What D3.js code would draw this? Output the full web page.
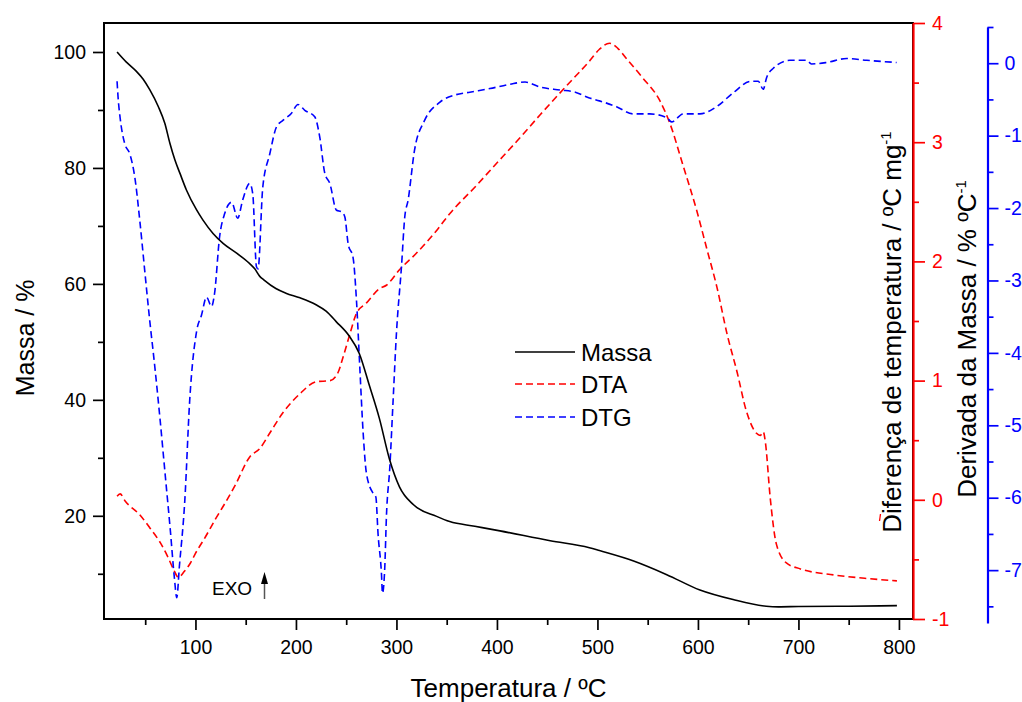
<!DOCTYPE html>
<html>
<head>
<meta charset="utf-8">
<script src="https://cdn.jsdelivr.net/npm/d3@7"></script>
<style>
  body { margin: 0; background: #fff; }
  svg { display: block; font-family: "Liberation Sans", Arial, Helvetica, sans-serif; }
</style>
</head>
<body>
<svg id="chart" width="1022" height="702"></svg>
<script>
// Thermal analysis: temperature (ºC) vs value, one array of [T, value] per series
const massa = [
  [22,100],[31,98.3],[41,96.7],[48,95.3],[54.5,93.5],[63,90.6],[69.5,87.7],[74.5,84.3],
  [79.5,81.4],[84.5,79.1],[91,76.2],[101,72.8],[107.5,71],[117.5,68.7],[127.5,67],
  [141,65.3],[154,63.5],[159,62.6],[164,61.3],[168,60.7],[180,59.2],[190,58.4],
  [204,57.6],[220,56.4],[230,55.3],[240,53.5],[253,51],[263,48],[273,42.5],[283,36.8],
  [293,29.8],[303,25],[317,21.9],[340,19.9],[353,19],[378,18.2],[403,17.4],[453,15.7],
  [492,14.5],[502,14.0],[536,12.2],[569,9.85],[602,7.2],[635,5.55],[668,4.4],[680,4.3],
  [700,4.35],[750,4.4],[798,4.5]
];
const dta = [
  [22,0.03],[25,0.05],[30,-0.01],[45,-0.13],[55,-0.24],[65,-0.36],[72,-0.47],[78,-0.58],
  [83,-0.65],[89,-0.6],[95,-0.53],[100,-0.45],[110,-0.31],[120,-0.16],[130,-0.02],
  [140,0.13],[154,0.36],[164,0.43],[174,0.56],[187,0.73],[204,0.89],[220,0.99],[234,1.0],
  [242,1.07],[247,1.2],[254,1.4],[260,1.56],[270,1.65],[283,1.77],[290,1.8],[303,1.93],
  [320,2.07],[340,2.26],[353,2.4],[380,2.64],[395,2.78],[420,3.01],[443,3.23],[470,3.48],
  [492,3.68],[502,3.78],[512,3.83],[520,3.79],[529,3.7],[545,3.54],[562,3.35],[572,3.16],
  [585,2.81],[599,2.42],[609,2.1],[619,1.78],[629,1.39],[639,1.07],[648,0.75],[658,0.56],
  [662,0.54],[665,0.57],[667,0.49],[672,0.01],[678,-0.37],[688,-0.53],[702,-0.58],
  [735,-0.63],[768,-0.66],[798,-0.68]
];
const dtg = [
  [22,-0.25],[23,-0.47],[25,-0.75],[29.6,-1.11],[34.6,-1.25],[39.6,-1.57],[44.6,-2.17],
  [49.5,-2.86],[53.8,-3.46],[60,-4.25],[65,-4.95],[70,-5.7],[75,-6.45],[79,-7.1],
  [81.4,-7.38],[84,-6.95],[89.4,-6.04],[94.3,-4.65],[101.3,-3.69],[106,-3.48],[111,-3.23],
  [116,-3.36],[119,-3.18],[124,-2.4],[129,-2.08],[136,-1.92],[142,-2.14],[147,-1.89],
  [154,-1.66],[157,-1.8],[160.7,-2.81],[162.3,-2.84],[167,-1.71],[174,-1.25],[180.6,-0.88],
  [187,-0.79],[195.6,-0.69],[202,-0.57],[208.8,-0.65],[218.7,-0.74],[223.7,-1.02],
  [228.7,-1.52],[233.7,-1.66],[240.3,-2.03],[245.3,-2.05],[248.6,-2.12],[252,-2.5],
  [256.8,-2.68],[260.2,-3.27],[263.5,-4.19],[266.9,-5.11],[270.2,-5.67],[276.8,-5.94],
  [279.5,-5.99],[281.7,-6.5],[285.1,-7.05],[286.1,-7.32],[288.4,-6.96],[290,-6.27],
  [293.4,-5.58],[296.7,-4.65],[300,-3.73],[305,-2.81],[308.3,-2.12],[311.6,-1.89],
  [318,-1.2],[328,-0.79],[343,-0.54],[358,-0.44],[373,-0.4],[393,-0.35],[413,-0.29],
  [428,-0.26],[443,-0.33],[463,-0.37],[478,-0.4],[492,-0.48],[502,-0.52],[519,-0.6],
  [535.6,-0.7],[552,-0.7],[568.8,-0.75],[573.8,-0.81],[585.3,-0.7],[602,-0.7],
  [618.6,-0.6],[635,-0.41],[652.7,-0.25],[660,-0.25],[665,-0.36],[668.3,-0.2],
  [675,-0.07],[691.5,0.04],[708,0.04],[713,-0.01],[728,0.01],[748,0.065],[768,0.04],
  [797.7,0.01]
];

// Tick values for each axis
const tempTicks = [100, 200, 300, 400, 500, 600, 700, 800];
const tempMinor = [50, 150, 250, 350, 450, 550, 650, 750];
const massaTicks = [20, 40, 60, 80, 100];
const massaMinor = [10, 30, 50, 70, 90];
const dtaTicks = [-1, 0, 1, 2, 3, 4];
const dtaMinor = [-0.5, 0.5, 1.5, 2.5, 3.5];
const dtgTicks = [-7, -6, -5, -4, -3, -2, -1, 0];
const dtgMinor = [-7.5, -6.5, -5.5, -4.5, -3.5, -2.5, -1.5, -0.5, 0.5];

const seriesNames = ["Massa", "DTA", "DTG"];
const seriesColors = ["#000000", "#ff0000", "#0000ff"];

const svg = d3.select("#chart");
const frameL = 104, frameR = 913, frameT = 23, frameB = 619;

const x = d3.scaleLinear().domain([9, 814]).range([frameL, frameR]);
const yMassa = d3.scaleLinear().domain([2.2, 105]).range([frameB, frameT]);
const yDta = d3.scaleLinear().domain([-1, 4]).range([frameB, frameT]);
const yDtg = d3.scaleLinear().domain([-7.73, 0.5]).range([623, 27]);

const fmt = d => String(d);
const tickFont = "19.5px";

function axisPair(gen, scale, major, minor, transform, color, majorLen, pad, showDomain) {
  const gMin = svg.append("g").attr("transform", transform)
    .call(gen(scale).tickValues(minor).tickSize(6).tickSizeOuter(0).tickFormat(""));
  gMin.select(".domain").remove();
  const gMaj = svg.append("g").attr("transform", transform)
    .call(gen(scale).tickValues(major).tickSize(majorLen).tickSizeOuter(0)
      .tickPadding(pad).tickFormat(fmt));
  if (showDomain) {
    gMaj.select(".domain").attr("stroke", color).attr("stroke-width", 2.2);
  } else {
    gMaj.select(".domain").remove();
  }
  [gMin, gMaj].forEach(g => g.selectAll(".tick line").attr("stroke", color).attr("stroke-width", 1.7));
  gMaj.selectAll(".tick text").attr("fill", color).style("font-size", tickFont)
    .style("font-family", "'Liberation Sans', Arial, sans-serif");
  return gMaj;
}

// Curves, clipped to the plotting frame
svg.append("clipPath").attr("id", "plotClip")
  .append("rect").attr("x", frameL).attr("y", frameT)
  .attr("width", frameR - frameL).attr("height", frameB - frameT);

const plot = svg.append("g").attr("clip-path", "url(#plotClip)");

const lineOf = yScale => d3.line().x(d => x(d[0])).y(d => yScale(d[1])).curve(d3.curveMonotoneX);

plot.append("path").datum(dta)
  .attr("d", lineOf(yDta)).attr("fill", "none")
  .attr("stroke", seriesColors[1]).attr("stroke-width", 1.6).attr("stroke-dasharray", "7,4");
plot.append("path").datum(dtg)
  .attr("d", lineOf(yDtg)).attr("fill", "none")
  .attr("stroke", seriesColors[2]).attr("stroke-width", 1.6).attr("stroke-dasharray", "7,4");
plot.append("path").datum(massa)
  .attr("d", lineOf(yMassa)).attr("fill", "none")
  .attr("stroke", seriesColors[0]).attr("stroke-width", 1.6);

// Frame
svg.append("rect").attr("x", frameL).attr("y", frameT)
  .attr("width", frameR - frameL).attr("height", frameB - frameT)
  .attr("fill", "none").attr("stroke", "#000").attr("stroke-width", 2);

// Axes
axisPair(d3.axisBottom, x, tempTicks, tempMinor, `translate(0,${frameB})`, "#000", 11, 10, false);
axisPair(d3.axisLeft, yMassa, massaTicks, massaMinor, `translate(${frameL},0)`, "#000", 11, 7, false);
axisPair(d3.axisRight, yDta, dtaTicks, dtaMinor, `translate(${frameR},0)`, "#ff0000", 12, 7, true);
axisPair(d3.axisRight, yDtg, dtgTicks, dtgMinor, `translate(987.5,0)`, "#0000ff", 11, 6, true);

// Axis titles
const titleSize = "26px";
svg.append("text").attr("x", (frameL + frameR) / 2).attr("y", 697)
  .attr("text-anchor", "middle").style("font-size", titleSize).text("Temperatura / ºC");

svg.append("text").attr("transform", "translate(34,338) rotate(-90)")
  .attr("text-anchor", "middle").style("font-size", "25px").text("Massa / %");

const tDta = svg.append("text").attr("transform", "translate(901,332) rotate(-90)")
  .attr("text-anchor", "middle").style("font-size", titleSize);
tDta.append("tspan").text("Diferença de temperatura / ºC mg");
tDta.append("tspan").attr("dy", -10).style("font-size", "15px").text("-1");

const tDtg = svg.append("text").attr("transform", "translate(976,339) rotate(-90)")
  .attr("text-anchor", "middle").style("font-size", titleSize);
tDtg.append("tspan").text("Derivada da Massa / % ºC");
tDtg.append("tspan").attr("dy", -10).style("font-size", "15px").text("-1");

// Small red stroke at the foot of the DTA axis title
svg.append("line").attr("x1", 879.5).attr("y1", 521).attr("x2", 880.5).attr("y2", 514)
  .attr("stroke", "#ff0000").attr("stroke-width", 1.3);

// Legend
const legendY = [352, 384, 417];
const legend = svg.append("g");
seriesNames.forEach((name, i) => {
  legend.append("line").attr("x1", 515).attr("x2", 575)
    .attr("y1", legendY[i]).attr("y2", legendY[i])
    .attr("stroke", seriesColors[i]).attr("stroke-width", 1.6)
    .attr("stroke-dasharray", i === 0 ? null : "7,4");
  legend.append("text").attr("x", 581).attr("y", legendY[i] + 8.5)
    .style("font-size", "24px").text(name);
});

// Exothermic direction marker
svg.append("text").attr("x", 212).attr("y", 595).style("font-size", "19px").text("EXO");
svg.append("line").attr("x1", 264.5).attr("x2", 264.5).attr("y1", 599).attr("y2", 580)
  .attr("stroke", "#555").attr("stroke-width", 1.5);
svg.append("path").attr("d", "M264.5,572 L268,584 L261,584 Z").attr("fill", "#000");
</script>
</body>
</html>
